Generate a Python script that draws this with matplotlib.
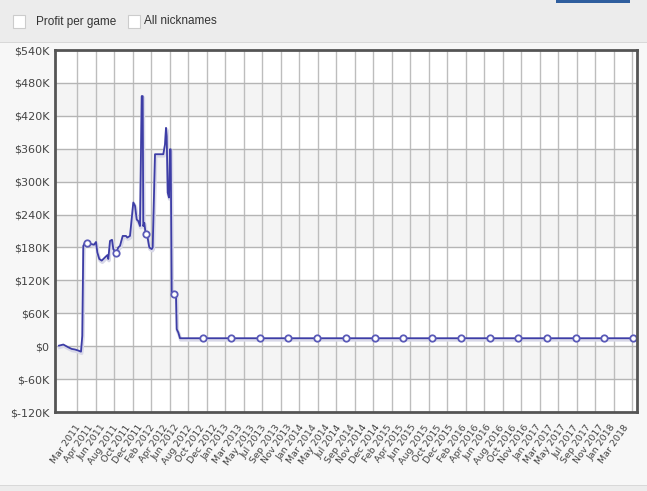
import numpy as np
import matplotlib
matplotlib.use('Agg')
import matplotlib.pyplot as plt
from matplotlib.patches import Rectangle
from matplotlib.lines import Line2D

# ---- data (x in label-index units, y in $K) ----
x_pos = [-0.964, -0.618, -0.217, 0.056, 0.321, 0.586, 0.803, 0.908, 0.988, 1.124,
         1.309, 1.663, 1.847, 2.008, 2.112, 2.273, 2.466, 2.731, 2.916, 2.996,
         3.133, 3.293, 3.398, 3.614, 3.799, 3.936, 4.153, 4.418, 4.522, 4.739,
         5.004, 5.141, 5.277, 5.406, 5.542, 5.679, 5.759, 5.807, 5.888, 6.000,
         6.129, 6.289, 6.482, 6.562, 6.747, 7.414, 7.550, 7.631, 7.687, 7.767,
         7.871, 7.952, 8.008, 8.088, 8.273, 8.434, 8.490, 8.618, 8.755, 45.141]
profit_k = [1, 3, -2, -5, -6, -8, -10, 19, 183, 189,
            189, 186, 185, 190, 171, 159, 156, 162, 166, 159,
            192, 194, 177, 170, 180, 183, 201, 201, 198, 201,
            262, 256, 231, 228, 219, 456, 456, 219, 225, 204,
            201, 180, 177, 180, 350, 350, 368, 398, 383, 280,
            271, 359, 359, 98, 95, 92, 31, 25, 14.5, 14.5]

marker_x = [1.309, 3.614, 6.000, 8.273, 10.562, 12.851, 15.141, 17.454, 19.759, 22.088,
            24.378, 26.683, 28.996, 31.325, 33.614, 35.928, 38.233, 40.522, 42.827, 45.141]
marker_k = [189, 170, 204, 95, 14.5, 14.5, 14.5, 14.5, 14.5, 14.5,
            14.5, 14.5, 14.5, 14.5, 14.5, 14.5, 14.5, 14.5, 14.5, 14.5]

y_ticks = [-120, -60, 0, 60, 120, 180, 240, 300, 360, 420, 480, 540]
y_tick_labels = ['$-120K', '$-60K', '$0', '$60K', '$120K', '$180K', '$240K',
                 '$300K', '$360K', '$420K', '$480K', '$540K']

x_tick_labels = ['Mar 2011', 'Apr 2011', 'Jun 2011', 'Aug 2011', 'Oct 2011', 'Dec 2011',
                 'Feb 2012', 'Apr 2012', 'Jun 2012', 'Aug 2012', 'Oct 2012', 'Dec 2012',
                 'Jan 2013', 'Mar 2013', 'May 2013', 'Jul 2013', 'Sep 2013', 'Nov 2013',
                 'Jan 2014', 'Mar 2014', 'May 2014', 'Jul 2014', 'Sep 2014', 'Nov 2014',
                 'Dec 2014', 'Feb 2015', 'Apr 2015', 'Jun 2015', 'Aug 2015', 'Oct 2015',
                 'Dec 2015', 'Feb 2016', 'Apr 2016', 'Jun 2016', 'Aug 2016', 'Oct 2016',
                 'Nov 2016', 'Jan 2017', 'Mar 2017', 'May 2017', 'Jul 2017', 'Sep 2017',
                 'Nov 2017', 'Jan 2018', 'Mar 2018']

W, H = 647, 491
fig = plt.figure(figsize=(W / 100, H / 100), dpi=100)
fig.patch.set_facecolor('#f7f7f7')

def frect(x0, y0, w, h, color):
    fig.add_artist(Rectangle((x0 / W, 1 - (y0 + h) / H), w / W, h / H,
                             transform=fig.transFigure, facecolor=color,
                             edgecolor='none', zorder=0))

# header band
frect(0, 0, W, 42, '#ececec')
frect(0, 42, W, 1.2, '#d8d8d8')
frect(556, 0, 74, 2.5, '#2f5e9e')
# bottom band
frect(0, 485, W, 1.2, '#d8d8d8')
frect(0, 486, W, 5, '#ececec')

# checkboxes
for cx in (12.5, 127.5):
    fig.add_artist(Rectangle((cx / W, 1 - 28 / H), 12 / W, 13 / H,
                             transform=fig.transFigure, facecolor='white',
                             edgecolor='#cccccc', linewidth=0.8, zorder=1))
fig.text(35.5 / W, 1 - 21.5 / H, 'Profit per game', fontsize=8.5, family='Liberation Sans',
         color='#333333', va='center', ha='left')
fig.text(144 / W, 1 - 21.5 / H, 'All nicknames', fontsize=8.5, family='Liberation Sans',
         color='#333333', va='center', ha='left')

ax = fig.add_axes([55 / W, (H - 412) / H, 582 / W, 362 / H])
ax.set_facecolor('white')
ax.set_xlim(-1.285, 45.46)
ax.set_ylim(-120, 540)

# alternating bands
for lo in range(-60, 480, 120):
    ax.axhspan(lo, lo + 60, color='#f4f4f4', zorder=0, lw=0)

# grid
for k in range(31):
    ax.axvline(0.506 + 1.486 * k, color='#bdbdbd', lw=1, zorder=1)
for yv in y_ticks[1:-1]:
    ax.axhline(yv, color='#b5b5b5', lw=1, zorder=1)

line_color = '#3d3da6'
ax.plot(x_pos, profit_k, color='#d8d8e8', lw=2.5, zorder=2,
        transform=ax.transData + matplotlib.transforms.ScaledTranslation(0.5/72, -1.2/72, fig.dpi_scale_trans))
ax.plot(x_pos, profit_k, color=line_color, lw=1.3, zorder=3)
ax.plot(marker_x, marker_k, ls='none', marker='o', ms=4.6, mfc='white',
        mec='#5a5ab8', mew=1.3, zorder=4)

ax.set_yticks(y_ticks)
ax.set_yticklabels(y_tick_labels, fontsize=8, color='#444444')
ax.tick_params(axis='y', length=0, pad=4)

ax.set_xticks(np.arange(len(x_tick_labels)) + 0.32)
ax.set_xticklabels(x_tick_labels, rotation=55, ha='right', va='top',
                   rotation_mode='anchor', fontsize=6.8, color='#444444')
ax.tick_params(axis='x', length=0, pad=8)

for s in ax.spines.values():
    s.set_color('#555555')
    s.set_linewidth(2)
    s.set_zorder(5)

fig.savefig('out.png', dpi=100, facecolor=fig.get_facecolor())
